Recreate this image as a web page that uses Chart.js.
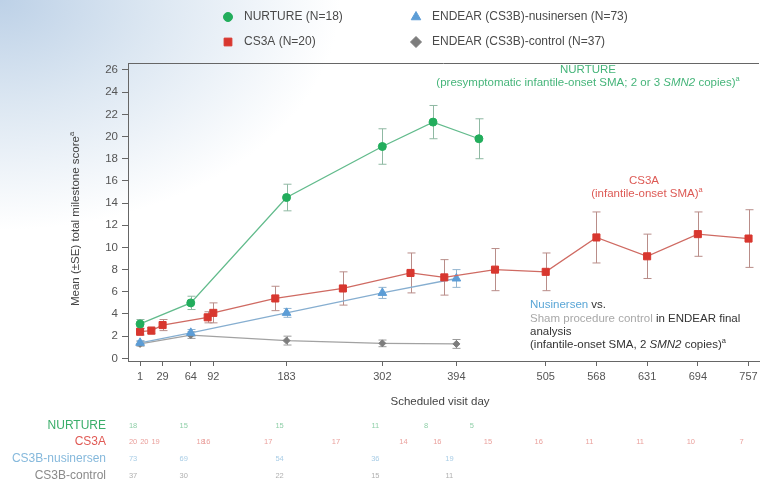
<!DOCTYPE html>
<html>
<head>
<meta charset="utf-8">
<script src="https://cdn.jsdelivr.net/npm/chart.js@4.4.1/dist/chart.umd.min.js"></script>
<style>
  html, body { margin: 0; padding: 0; }
  body {
    width: 765px; height: 486px; overflow: hidden;
    background: radial-gradient(ellipse 340px 230px at 0 0, #bdd1e7 0%, #dce7f2 45%, #ffffff 100%);
  }
  #wrap { position: relative; width: 765px; height: 486px; }
</style>
</head>
<body>
<div id="wrap"><canvas id="chart" width="765" height="486"></canvas></div>
<script>
'use strict';

// axis ticks
const xTickDays = [1, 29, 64, 92, 183, 302, 394, 505, 568, 631, 694, 757];
const yTicks = [0, 2, 4, 6, 8, 10, 12, 14, 16, 18, 20, 22, 24, 26];

// NURTURE
const nurtureDays = [1, 64, 183, 302, 365, 422];
const nurtureMean = [3.1, 5.0, 14.5, 19.1, 21.3, 19.8];
const nurtureSE   = [0.4, 0.6, 1.2, 1.6, 1.5, 1.8];
const nurtureN    = [18, 15, 15, 11, 8, 5];

// CS3A
const cs3aDays = [1, 15, 29, 85, 92, 169, 253, 337, 379, 442, 505, 568, 631, 694, 757];
const cs3aMean = [2.4, 2.5, 3.0, 3.7, 4.1, 5.4, 6.3, 7.7, 7.3, 8.0, 7.8, 10.9, 9.2, 11.2, 10.8];
const cs3aSE   = [0.3, 0.3, 0.5, 0.5, 0.9, 1.1, 1.5, 1.8, 1.6, 1.9, 1.7, 2.3, 2.0, 2.0, 2.6];
const cs3aN    = [20, 20, 19, 18, 16, 17, 17, 14, 16, 15, 16, 11, 11, 10, 7];

// ENDEAR nusinersen
const nusDays = [1, 64, 183, 302, 394];
const nusMean = [1.4, 2.3, 4.1, 5.9, 7.2];
const nusSE   = [0.2, 0.3, 0.4, 0.5, 0.8];
const nusN    = [73, 69, 54, 36, 19];

// ENDEAR control
const ctrlDays = [1, 64, 183, 302, 394];
const ctrlMean = [1.3, 2.1, 1.6, 1.35, 1.3];
const ctrlSE   = [0.2, 0.3, 0.4, 0.3, 0.4];
const ctrlN    = [37, 30, 22, 15, 11];

const FONT = '"Liberation Sans", Arial, sans-serif';
const GREEN = '#22ad5c', RED = '#d8372f', BLUE = '#5c9dd6', GREY = '#7d7d7d';

const pts = (days, vals) => days.map((d, i) => ({x: d, y: vals[i]}));

function series(label, days, mean, se, color, lineColor, errColor, style, radius){
  return {
    label, data: pts(days, mean), se, errColor,
    showLine: true, borderColor: lineColor, borderWidth: 1.3,
    pointStyle: style, pointRadius: radius,
    pointBackgroundColor: color, pointBorderColor: color, pointBorderWidth: 1
  };
}

// draws text runs, supports colour / italic / superscript
function drawRuns(ctx, x, y, runs, size, align){
  const fontFor = r => (r.italic ? 'italic ' : '') + (r.sup ? size * 0.65 : size) + 'px ' + FONT;
  let total = 0;
  runs.forEach(r => { ctx.font = fontFor(r); total += ctx.measureText(r.t).width; });
  let cx = align === 'center' ? x - total / 2 : x;
  ctx.textAlign = 'left';
  ctx.textBaseline = 'middle';
  runs.forEach(r => {
    ctx.font = fontFor(r);
    ctx.fillStyle = r.color;
    ctx.fillText(r.t, cx, r.sup ? y - size * 0.35 : y);
    cx += ctx.measureText(r.t).width;
  });
}

const errorBars = {
  id: 'errorBars',
  beforeDatasetsDraw(chart){
    const ctx = chart.ctx, xs = chart.scales.x, ys = chart.scales.y;
    chart.data.datasets.forEach(ds => {
      ctx.save();
      ctx.strokeStyle = ds.errColor;
      ctx.lineWidth = 1;
      ds.data.forEach((p, i) => {
        const x = Math.round(xs.getPixelForValue(p.x)) + 0.5;
        const y1 = ys.getPixelForValue(p.y + ds.se[i]);
        const y2 = ys.getPixelForValue(p.y - ds.se[i]);
        ctx.beginPath();
        ctx.moveTo(x, y1); ctx.lineTo(x, y2);
        ctx.moveTo(x - 4, y1); ctx.lineTo(x + 4, y1);
        ctx.moveTo(x - 4, y2); ctx.lineTo(x + 4, y2);
        ctx.stroke();
      });
      ctx.restore();
    });
  }
};

const extras = {
  id: 'extras',
  afterDraw(chart){
    const ctx = chart.ctx, xs = chart.scales.x, a = chart.chartArea;
    ctx.save();

    // top frame line
    ctx.strokeStyle = '#666';
    ctx.lineWidth = 1;
    ctx.beginPath(); ctx.moveTo(a.left, a.top + 0.5); ctx.lineTo(a.right, a.top + 0.5); ctx.stroke();

    // legend
    const H = Chart.helpers;
    const leg = [
      {x: 228, y: 17, style: 'circle', r: 4.5, c: GREEN, t: 'NURTURE (N=18)'},
      {x: 416, y: 17, style: 'triangle', r: 5.5, c: BLUE, t: 'ENDEAR (CS3B)-nusinersen (N=73)'},
      {x: 228, y: 42, style: 'rect', r: 5.5, c: RED, t: 'CS3A (N=20)'},
      {x: 416, y: 42, style: 'rectRot', r: 5.5, c: GREY, t: 'ENDEAR (CS3B)-control (N=37)'}
    ];
    leg.forEach(l => {
      ctx.fillStyle = l.c; ctx.strokeStyle = l.c;
      H.drawPoint(ctx, {pointStyle: l.style, radius: l.r, borderWidth: 1, rotation: 0}, l.x, l.y);
      drawRuns(ctx, l.x + 16, l.y, [{t: l.t, color: '#4a4a4a'}], 12, 'left');
    });

    // annotations
    const AS = 11.5;
    drawRuns(ctx, 588, 70, [{t: 'NURTURE', color: '#46b57a'}], AS, 'center');
    drawRuns(ctx, 588, 83, [
      {t: '(presymptomatic infantile-onset SMA; 2 or 3 ', color: '#46b57a'},
      {t: 'SMN2', color: '#46b57a', italic: true},
      {t: ' copies)', color: '#46b57a'},
      {t: 'a', color: '#46b57a', sup: true}
    ], AS, 'center');
    drawRuns(ctx, 644, 181, [{t: 'CS3A', color: '#dd5a55'}], AS, 'center');
    drawRuns(ctx, 647, 194, [
      {t: '(infantile-onset SMA)', color: '#dd5a55'},
      {t: 'a', color: '#dd5a55', sup: true}
    ], AS, 'center');
    drawRuns(ctx, 530, 305, [{t: 'Nusinersen', color: '#5aa6d6'}, {t: ' vs.', color: '#333'}], AS, 'left');
    drawRuns(ctx, 530, 319, [{t: 'Sham procedure control', color: '#a8a8a8'}, {t: ' in ENDEAR final', color: '#333'}], AS, 'left');
    drawRuns(ctx, 530, 332, [{t: 'analysis', color: '#333'}], AS, 'left');
    drawRuns(ctx, 530, 345, [
      {t: '(infantile-onset SMA, 2 ', color: '#333'},
      {t: 'SMN2', color: '#333', italic: true},
      {t: ' copies)', color: '#333'},
      {t: 'a', color: '#333', sup: true}
    ], AS, 'left');

    // axis titles
    drawRuns(ctx, 440, 402, [{t: 'Scheduled visit day', color: '#444'}], 11.5, 'center');
    ctx.save();
    ctx.translate(76, 219);
    ctx.rotate(-Math.PI / 2);
    drawRuns(ctx, 0, 0, [{t: 'Mean (\u00B1SE) total milestone score', color: '#444'}, {t: 'a', color: '#444', sup: true}], 11.5, 'center');
    ctx.restore();

    // number-at-risk table
    const rows = [
      {label: 'NURTURE', y: 426, lc: '#3aae6a', nc: '#8fcfa8', days: nurtureDays, n: nurtureN},
      {label: 'CS3A', y: 442, lc: '#e05a55', nc: '#eaa19d', days: cs3aDays, n: cs3aN},
      {label: 'CS3B-nusinersen', y: 459, lc: '#86b9dc', nc: '#a9cde6', days: nusDays, n: nusN},
      {label: 'CS3B-control', y: 476, lc: '#8a8a8a', nc: '#b0b0b0', days: ctrlDays, n: ctrlN}
    ];
    rows.forEach(r => {
      ctx.font = '12px ' + FONT;
      ctx.fillStyle = r.lc;
      ctx.textAlign = 'right';
      ctx.textBaseline = 'middle';
      ctx.fillText(r.label, 106, r.y);
      ctx.font = '7.5px ' + FONT;
      ctx.fillStyle = r.nc;
      ctx.textAlign = 'center';
      r.days.forEach((d, i) => ctx.fillText(String(r.n[i]), xs.getPixelForValue(d) - 7, r.y));
    });

    ctx.restore();
  }
};

new Chart(document.getElementById('chart'), {
  type: 'scatter',
  data: {
    datasets: [
      series('NURTURE', nurtureDays, nurtureMean, nurtureSE, GREEN, '#62bb8c', '#8fb9a3', 'circle', 4),
      series('CS3A', cs3aDays, cs3aMean, cs3aSE, RED, '#cf6a62', '#b98d89', 'rect', 5),
      series('ENDEAR nusinersen', nusDays, nusMean, nusSE, BLUE, '#86aed0', '#93b4cf', 'triangle', 5),
      series('ENDEAR control', ctrlDays, ctrlMean, ctrlSE, GREY, '#a2a2a2', '#9a9a9a', 'rectRot', 3.5)
    ]
  },
  options: {
    responsive: false,
    animation: false,
    devicePixelRatio: 1,
    layout: {padding: {left: 0, top: 63, right: 3, bottom: 0}},
    plugins: {legend: {display: false}, tooltip: {enabled: false}},
    scales: {
      x: {
        type: 'linear', min: -14, max: 770,
        afterFit: s => { s.height = 125; },
        afterBuildTicks: s => { s.ticks = xTickDays.map(v => ({value: v})); },
        grid: {drawOnChartArea: false, tickLength: 5, color: '#666'},
        border: {color: '#666'},
        ticks: {color: '#555', font: {size: 11, family: FONT}, padding: 4, autoSkip: false, maxRotation: 0}
      },
      y: {
        type: 'linear', min: -0.24, max: 26.63,
        afterFit: s => { s.width = 128; },
        afterBuildTicks: s => { s.ticks = yTicks.map(v => ({value: v})); },
        grid: {drawOnChartArea: false, tickLength: 6, color: '#666'},
        border: {color: '#666'},
        ticks: {color: '#555', font: {size: 11.5, family: FONT}, padding: 4}
      }
    }
  },
  plugins: [errorBars, extras]
});
</script>
</body>
</html>
